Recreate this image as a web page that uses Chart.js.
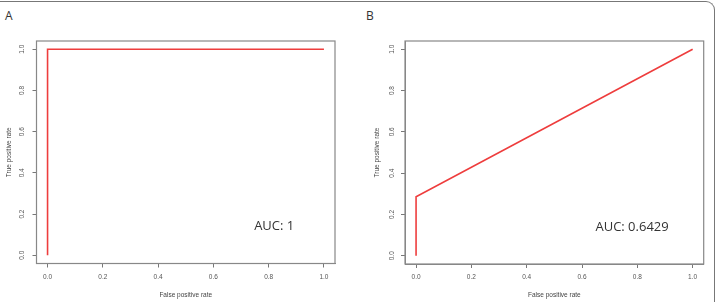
<!DOCTYPE html>
<html>
<head>
<meta charset="utf-8">
<script src="https://cdn.jsdelivr.net/npm/chart.js@4"></script>
<style>
  body { margin: 0; width: 716px; height: 302px; overflow: hidden; background: #fff; position: relative; font-family: 'Open Sans', sans-serif; }
  .frame { position: absolute; box-sizing: border-box; left: -10px; top: 0.5px; width: 725px; height: 330px;
           border-top: 1.5px solid #777; border-right: 1.5px solid #777; border-top-right-radius: 9px; }
  canvas { position: absolute; top: 0; }
  .tag { position: absolute; font-size: 12px; line-height: 16px; color: #333; }
</style>
</head>
<body>
<div class="frame"></div>
<div class="tag" style="left:5px;top:8px">A</div>
<div class="tag" style="left:366px;top:8px">B</div>
<canvas id="rocA" width="358" height="302" style="left:0"></canvas>
<canvas id="rocB" width="358" height="302" style="left:358px"></canvas>
<script>
// Dữ liệu ROC
const fprA = [0, 0, 1];
const tprA = [0, 1, 1];
const fprB = [0, 0, 1];
const tprB = [0, 0.2857, 1];
const tickValues = [0, 0.2, 0.4, 0.6, 0.8, 1.0];
const aucA = 'AUC: 1';
const aucB = 'AUC: 0.6429';
const xTitle = 'False positive rate';
const yTitle = 'True positive rate';

const smallFont = { family: "'Liberation Sans', Arial, sans-serif", size: 6.5 };

// Khung quanh vùng vẽ (giống R box())
const boxPlugin = {
    id: 'plotBox',
    beforeDatasetsDraw(chart) {
        const a = chart.chartArea, ctx = chart.ctx;
        ctx.save();
        ctx.strokeStyle = '#888';
        ctx.lineWidth = 1.2;
        ctx.strokeRect(a.left, a.top, a.right - a.left, a.bottom - a.top);
        ctx.restore();
    }
};

// Nhãn AUC đặt theo toạ độ dữ liệu
const aucPlugin = {
    id: 'aucLabel',
    afterDatasetsDraw(chart, args, opts) {
        const ctx = chart.ctx;
        ctx.save();
        ctx.font = "13px 'Open Sans', sans-serif";
        ctx.fillStyle = '#333';
        ctx.textAlign = 'center';
        ctx.textBaseline = 'middle';
        ctx.fillText(opts.text, chart.scales.x.getPixelForValue(opts.x), chart.scales.y.getPixelForValue(opts.y));
        ctx.restore();
    }
};

function rocChart(id, fpr, tpr, aucText, g) {
    let pts = fpr.map((x, i) => ({ x: x, y: tpr[i] }));
    return new Chart(document.getElementById(id), {
        type: 'scatter',
        data: {
            datasets: [{
                data: pts,
                showLine: true,
                borderColor: '#ee3d3d',
                borderWidth: 1.6,
                pointRadius: 0,
                fill: false
            }]
        },
        options: {
            responsive: false,
            animation: false,
            events: [],
            layout: { padding: { top: g.top, right: g.right, left: 0, bottom: 0 } },
            plugins: {
                legend: { display: false },
                tooltip: { enabled: false },
                aucLabel: { text: aucText, x: g.aucX, y: g.aucY }
            },
            scales: {
                x: {
                    type: 'linear',
                    min: -0.04,
                    max: 1.04,
                    afterBuildTicks: s => { s.ticks = tickValues.map(v => ({ value: v })); },
                    afterFit: s => { s.height = g.xAxisH; },
                    grid: { drawOnChartArea: false, tickLength: 4, color: '#777', tickColor: '#777' },
                    border: { color: '#888' },
                    ticks: { padding: g.xTickPad, color: '#555', font: smallFont, minRotation: 0, maxRotation: 0,
                             callback: v => v.toFixed(1) },
                    title: { display: true, text: xTitle, color: '#444', font: smallFont, padding: { top: 0, bottom: 2.4 } }
                },
                y: {
                    type: 'linear',
                    min: -0.04,
                    max: 1.04,
                    afterBuildTicks: s => { s.ticks = tickValues.map(v => ({ value: v })); },
                    afterFit: s => { s.width = g.yAxisW; },
                    grid: { drawOnChartArea: false, tickLength: 4, color: '#777', tickColor: '#777' },
                    border: { color: '#888' },
                    ticks: { padding: g.yTickPad, color: '#555', font: smallFont, minRotation: 90, maxRotation: 90,
                             crossAlign: 'center', callback: v => v.toFixed(1) },
                    title: { display: true, text: yTitle, color: '#444', font: smallFont, padding: { top: g.yTitlePad, bottom: 0 } }
                }
            }
        },
        plugins: [boxPlugin, aucPlugin]
    });
}

rocChart('rocA', fprA, tprA, aucA, {
    top: 41, right: 23, yAxisW: 36.5, xAxisH: 38.5,
    xTickPad: 6.3, yTickPad: 5.5, yTitlePad: 5.6, aucX: 0.82, aucY: 0.14
});
rocChart('rocB', fprB, tprB, aucB, {
    top: 41, right: 12.3, yAxisW: 47, xAxisH: 38,
    xTickPad: 5.8, yTickPad: 4, yTitlePad: 15.1, aucX: 0.781, aucY: 0.14
});
</script>
</body>
</html>
